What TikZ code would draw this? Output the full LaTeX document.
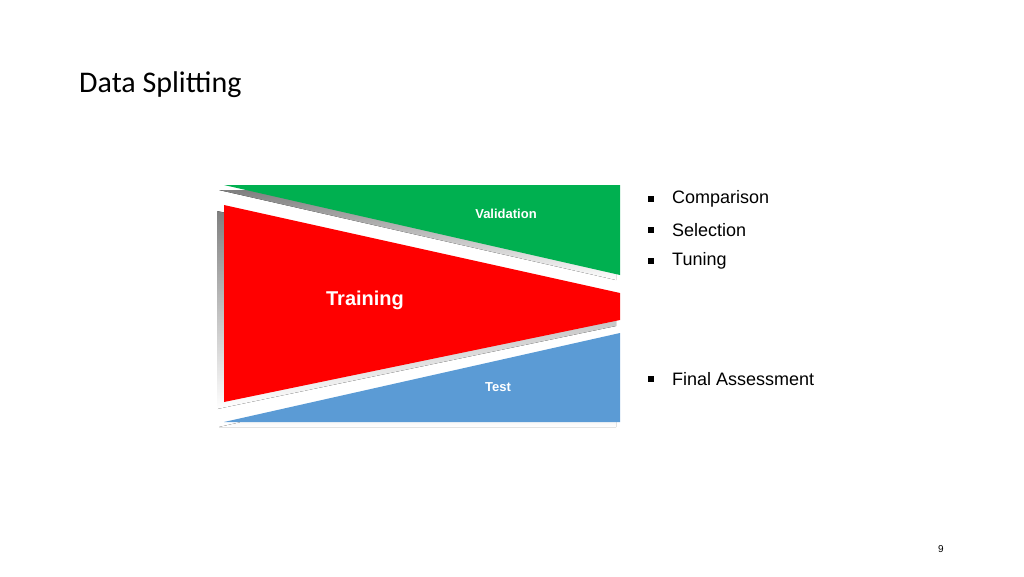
\documentclass[tikz,border=0pt]{standalone}
\usepackage{fontspec}
\setmainfont{Liberation Sans}
\newfontfamily\titlefont{Carlito}
\definecolor{valgreen}{HTML}{00B050}
\definecolor{trainred}{HTML}{FF0000}
\definecolor{testblue}{HTML}{5B9BD5}
\definecolor{shade}{HTML}{E0E0E0}
\tikzset{
  part/.style={draw=none},
  partlabel/.style={text=white, font=\bfseries},
  bulletitem/.style={anchor=west, font=\fontsize{18}{20}\selectfont, inner sep=0pt},
  bulletmark/.style={fill=black, minimum size=5.5pt, inner sep=0pt},
}
\begin{document}
\begin{tikzpicture}[x=1pt,y=-1pt]
\useasboundingbox (0,0) rectangle (1024,576);

% title and page number
\node[anchor=west, inner sep=0pt, font=\titlefont\fontsize{30}{34}\selectfont] (title) at (79,85) {Data Splitting};
\node[inner sep=0pt, font=\fontsize{10}{12}\selectfont] (page) at (941,549) {9};

% shadows
\fill[shade] (219,190) -- (616,190) -- (616,280) -- cycle;
\fill[shade] (217,211) -- (616,299) -- (616,326) -- (217,409) -- cycle;
\fill[shade] (219,427) -- (616,338) -- (616,427) -- cycle;

% the three parts
\fill[valgreen, part] (224,185) -- (620,185) -- (620,275) -- cycle;
\fill[trainred, part] (224,205) -- (620,293) -- (620,320) -- (224,402) -- cycle;
\fill[testblue, part] (224,422) -- (620,333) -- (620,422) -- cycle;

\node[partlabel, font=\bfseries\fontsize{13}{15}\selectfont] (val) at (506,214) {Validation};
\node[partlabel, font=\bfseries\fontsize{20}{24}\selectfont] (train) at (365,300) {Training};
\node[partlabel, font=\bfseries\fontsize{13}{15}\selectfont] (test) at (498,387) {Test};

% bullets
\foreach \y/\txt/\nm in {199/Comparison/cmp, 230/Selection/sel, 261/Tuning/tun, 379/Final Assessment/fin}{
  \node[bulletmark] (m\nm) at (651,\y) {};
  \node[bulletitem] (\nm) at (672,\y) {\txt};
}
\end{tikzpicture}
\end{document}
